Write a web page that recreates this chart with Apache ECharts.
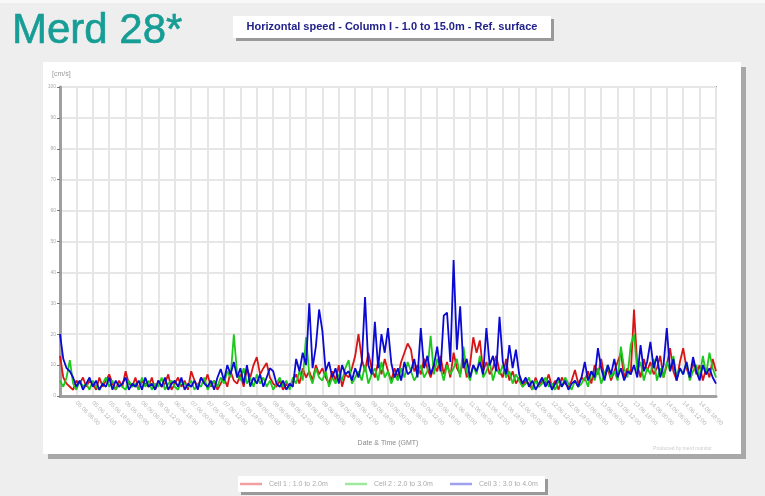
<!DOCTYPE html>
<html><head><meta charset="utf-8">
<script src="https://cdn.jsdelivr.net/npm/echarts@6/dist/echarts.min.js"></script>
<style>html,body{margin:0;padding:0;background:#eeeeee;}#c{width:765px;height:496px;}</style>
</head><body><div id="c"></div>
<script>
const seriesNames = ["Cell 1 : 1.0 to 2.0m", "Cell 2 : 2.0 to 3.0m", "Cell 3 : 3.0 to 4.0m"];
const tickLabels = ["05.06 00:00","05.06 06:00","05.06 12:00","05.06 18:00","06.06 00:00","06.06 06:00","06.06 12:00","06.06 18:00",
"07.06 00:00","07.06 06:00","07.06 12:00","07.06 18:00","08.06 00:00","08.06 06:00","08.06 12:00","08.06 18:00",
"09.06 00:00","09.06 06:00","09.06 12:00","09.06 18:00","10.06 00:00","10.06 06:00","10.06 12:00","10.06 18:00",
"11.06 00:00","11.06 06:00","11.06 12:00","11.06 18:00","12.06 00:00","12.06 06:00","12.06 12:00","12.06 18:00",
"13.06 00:00","13.06 06:00","13.06 12:00","13.06 18:00","14.06 00:00","14.06 06:00","14.06 12:00","14.06 18:00","15.06 00:00"];
const yTicks = [0,10,20,30,40,50,60,70,80,90,100];
const red = [
13,6,4,3,2,5,4,6,3,5,
4,2,6,3,5,7,4,2,5,3,
8,4,3,6,2,5,4,3,6,2,
5,3,4,7,2,4,6,3,5,2,
8,5,3,6,4,7,3,5,2,4,
6,3,8,5,4,7,3,9,6,10,
12.6,7,9,10.7,6,4,3,5,2,4,
3,5,7,4,9,6,8,5,10,7,
9,6,4,8,5,10,3,7,6,9,
13,20,12,8,14,9,6,11,7,12,
8,5,9,6,11,14,17,15,8,10,
7,12,9,6,10,8,13,7,11,6,
14,9,7,12,6,10,19,14,18,8,
11,7,9,13,8,6,12,5,8,4,
6,3,5,4,2,6,3,5,4,7,
3,5,2,6,4,3,5,8.4,4,6,
5,8,4,10,7,12,6,9,5,8,
11,14,6,9,7,28,10,6,12,8,
11,7,9,13,6,10,15.5,8,5,11,
15.5,9,6,11,7,10,5,9,6,12,
8];
const green = [
5,3,6,11.6,4,2,5,3,4,2,
5,3,2,4,6,3,5,2,4,3,
2,5,3,4,2,6,3,5,2,4,
3,6,2,4,5,3,2,5,4,3,
5,2,4,3,6,2,4,5,3,6,
4,8,6,20,7,5,9,4,6,3,
7,4,6,3,5,2,4,6,3,5,
2,6,4,8,5,19,7,4,9,6,
5,8,3,6,4,7,5,9,11.6,4,
6,8,5,10,4,7,9,5,11,6,
8,4,7,5,9,6,11,8,5,7,
10,6,8,19.5,7,12,9,5,10,7,
9,12,6,16,8,5,10,7,13,6,
8,11,5,9,7,10,6,8,4,7,
5,3,4,6,2,5,3,4,6,3,
4,2,5,3,6,4,2,5,3,4,
6,3,8,5,9,4,7,10,6,8,
5,16,9,6,16.5,20,8,11,5,9,
7,12,5,9,6,11,8,13,6,9,
7,11,5,8,10,6,13,7,14,9,
6];
const blue = [
20,12,9,8,6,3,5,2,4,6,
3,5,2,4,3,6,2,5,3,4,
6,2,4,3,5,2,6,3,4,2,
5,3,6,2,4,5,3,6,2,4,
3,5,2,6,4,3,5,2,6,8.7,
5,10,7,11,6,9,4,10,3,6,
4,7,3,6,9,8,4,3,5,2,
4,3,12,8,14,10,30,9,16,28,
21,8,11,6,9,4,10,7,8,5,
9,6,11,32,10,7,24,9,20,14,
22,10.7,6,9,5,11,7,8,12,6,
22,9,13,7,10,16,8,26,27,11,
44,15,29,9,12,6,10,8,11,7,
22,10,13,8,25.6,11,7,16.5,9,15,
7,4,6,3,5,2,4,6,3,5,
2,4,6,3,5,2,4,5,3,6,
11,5,8,6,15.5,9,5,10,7,12,
6,9,5,8,7,10,6,16.5,8,11,
17.5,9,13,6,10,22,8,12,5,9,
7,11,6,12.6,8,5,10,7,9,6,
4];
const colors = ["#d81414", "#1ec81e", "#0a0ad2"];
const legendColors = ["#f0a0a0", "#a0e8a0", "#a0a0f0"];

const chart = echarts.init(document.getElementById('c'), null, {renderer: 'canvas'});
const toPairs = arr => arr.map((v, i) => [i, v]);
const lastIdx = red.length - 1;
const step = lastIdx / (tickLabels.length - 1);
const FONT = "Liberation Sans, Arial, sans-serif";

const legendX = [240, 345, 450];
const legendGraphics = [];
seriesNames.forEach((n, i) => {
  legendGraphics.push({type: 'line', shape: {x1: legendX[i], y1: 484, x2: legendX[i] + 22, y2: 484}, style: {stroke: legendColors[i], lineWidth: 2.5}, z: 20});
  legendGraphics.push({type: 'text', x: legendX[i] + 29, y: 484, style: {text: n, fill: '#aaaaaa', font: '7px ' + FONT, textVerticalAlign: 'middle', verticalAlign: 'middle'}, z: 20});
});

chart.setOption({
  animation: false,
  backgroundColor: '#eeeeee',
  graphic: [
    {type: 'rect', shape: {x: 0, y: 0, width: 765, height: 3}, style: {fill: '#f8f8f8'}, z: 0},
    {type: 'text', x: 12, y: 10, style: {text: 'Merd 28*', fill: '#169d95', font: '42px ' + FONT, stroke: '#169d95', lineWidth: 0.6}, z: 10},
    {type: 'rect', shape: {x: 236, y: 19, width: 318, height: 22}, style: {fill: '#999999'}, z: 1},
    {type: 'rect', shape: {x: 233, y: 16, width: 318, height: 22}, style: {fill: '#ffffff'}, z: 2},
    {type: 'text', x: 392, y: 27, style: {text: 'Horizontal speed - Column I - 1.0 to 15.0m - Ref. surface', fill: '#22228a', font: 'bold 11px ' + FONT, textAlign: 'center', align: 'center', textVerticalAlign: 'middle', verticalAlign: 'middle'}, z: 3},
    {type: 'rect', shape: {x: 48, y: 67, width: 698, height: 392}, style: {fill: '#a8a8a8'}, z: -2},
    {type: 'rect', shape: {x: 43, y: 62, width: 698, height: 392}, style: {fill: '#ffffff'}, z: -1},
    {type: 'text', x: 52, y: 74, style: {text: '[cm/s]', fill: '#999999', font: '7px ' + FONT, textVerticalAlign: 'middle', verticalAlign: 'middle'}, z: 10},
    {type: 'text', x: 712, y: 449, style: {text: 'Produced by merd monitor', fill: '#cccccc', font: '5px ' + FONT, textAlign: 'right', align: 'right', textVerticalAlign: 'middle', verticalAlign: 'middle'}, z: 10},
    {type: 'rect', shape: {x: 241, y: 479, width: 307, height: 16}, style: {fill: '#999999'}, z: 1},
    {type: 'rect', shape: {x: 238, y: 476, width: 307, height: 16}, style: {fill: '#ffffff'}, z: 2},
    ...legendGraphics
  ],
  grid: {left: 60, top: 87, width: 656, height: 309, show: true, borderColor: '#9d9d9d', borderWidth: 2, backgroundColor: 'transparent'},
  xAxis: {
    type: 'value', min: 0, max: lastIdx, interval: step,
    name: 'Date & Time (GMT)', nameLocation: 'middle', nameGap: 44,
    nameTextStyle: {color: '#8a8a8a', fontSize: 7, fontFamily: FONT},
    axisLine: {show: true, onZero: false, lineStyle: {color: '#a0a0a0', width: 3}},
    axisTick: {show: false},
    splitLine: {show: true, lineStyle: {color: '#e6e6e6', width: 2}},
    axisLabel: {
      rotate: -45, fontSize: 6, color: '#b5b5b5', fontFamily: FONT, margin: 6,
      formatter: v => { const k = Math.round(v / step); return (k <= 0 || k >= tickLabels.length - 1) ? '' : tickLabels[k]; }
    }
  },
  yAxis: {
    type: 'value', min: yTicks[0], max: yTicks[yTicks.length - 1], interval: yTicks[1] - yTicks[0],
    axisLine: {show: true, lineStyle: {color: '#a0a0a0', width: 3}},
    axisTick: {show: true, length: 3, lineStyle: {color: '#777777'}},
    splitLine: {show: true, lineStyle: {color: '#e6e6e6', width: 2}},
    axisLabel: {fontSize: 5, color: '#aaaaaa', fontFamily: FONT, margin: 4}
  },
  series: [red, green, blue].map((arr, i) => ({
    name: seriesNames[i], type: 'line', data: toPairs(arr), showSymbol: false, symbol: 'none',
    lineStyle: {color: colors[i], width: 1.8}, itemStyle: {color: colors[i]}, z: 5 + i
  }))
});
</script>
</body></html>
